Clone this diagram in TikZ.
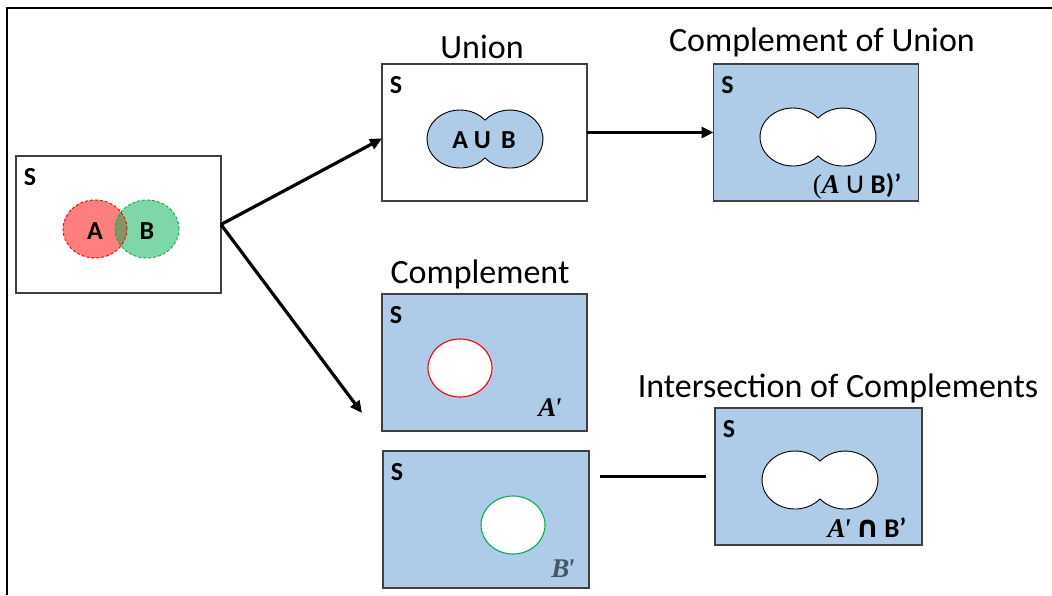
\documentclass[tikz,border=0pt]{standalone}
\usepackage{fontspec}
\setmainfont{Carlito}
\newfontfamily\symserif{Liberation Serif}
\newfontfamily\dvsans{DejaVu Sans}
\usetikzlibrary{arrows.meta,calc}

\definecolor{setblue}{RGB}{174,203,232}
\definecolor{boxline}{RGB}{64,64,64}
\definecolor{vennred}{RGB}{255,0,0}
\definecolor{venngreen}{RGB}{0,176,80}
\definecolor{slate}{RGB}{68,84,106}

% bold italic letter with a prime
\newcommand\primed[1]{{\symserif\bfseries\itshape #1\kern-0.08em'}}

\tikzset{
  setbox/.style={draw=boxline, line width=1.4pt, rectangle, inner sep=0pt, outer sep=0pt,
                 minimum width=205pt, minimum height=137pt},
  fullbox/.style={setbox, fill=setblue},
  title/.style={font=\fontsize{34}{40}\selectfont, anchor=base, inner sep=0pt},
  lbl/.style={font=\fontsize{26}{30}\selectfont\bfseries, inner sep=0pt},
  mlbl/.style={font=\fontsize{27}{32}\selectfont, anchor=base, inner sep=0pt},
  conn/.style={line width=3.2pt, -{Triangle[length=12pt,width=11pt]}},
  link/.style={line width=3.2pt},
  % two overlapping ellipses forming a single outline
  lobes/.pic={
    \path[pic actions] (0,-18.9)
      arc[start angle=40.7, end angle=319.3, x radius=33pt, y radius=29pt]
      arc[start angle=220.7, end angle=499.3, x radius=33pt, y radius=29pt] -- cycle;
  }
}

\begin{document}
\begin{tikzpicture}[x=1pt, y=-1pt]
\useasboundingbox (0,0) rectangle (1052,595);

% outer frame
\draw[line width=1.6pt] (7,595) -- (7,8) -- (1052,8);

% sample space with A and B
\node[setbox] (S0) at (118.5,224.5) {};
\node[lbl] (s0) at ($(S0.north west)+(14,21)$) {S};
\fill[vennred, fill opacity=0.5] (95,229) ellipse[x radius=32pt, y radius=29pt];
\fill[venngreen, fill opacity=0.5] (147,229) ellipse[x radius=32pt, y radius=29pt];
\draw[vennred, line width=0.9pt, dash pattern=on 3pt off 2pt] (95,229) ellipse[x radius=32pt, y radius=29pt];
\draw[venngreen, line width=0.9pt, dash pattern=on 3pt off 2pt] (147,229) ellipse[x radius=32pt, y radius=29pt];
\node[lbl] (la) at (95,231) {A};
\node[lbl] (lb) at (147,231) {B};

% union
\node[setbox] (U) at (484.5,132.5) {};
\node[lbl] (s1) at ($(U.north west)+(14,21)$) {S};
\node[title] (tU) at (482,58) {Union};
\pic[fill=setblue, draw=black, line width=0.9pt] at (485,139) {lobes};
\node[lbl] (lu) at (484,140) {A U\, B};

% complement of the union
\node[fullbox] (CU) at (816,132.5) {};
\node[lbl] (s2) at ($(CU.north west)+(14,21)$) {S};
\node[title] (tCU) at (822,51) {Complement of Union};
\pic[fill=white, draw=black, line width=0.9pt] at (818,137) {lobes};
\node[mlbl] (lcu) at (857,193) {{\symserif(}{\symserif\bfseries\itshape A}\,{\dvsans\fontsize{30}{32}\selectfont ∪}\,\textbf{B)’}};

% complements of A and B
\node[title] (tC) at (480,283) {Complement};
\node[fullbox] (CA) at (484.5,362.5) {};
\node[lbl] (s3) at ($(CA.north west)+(14,21)$) {S};
\draw[vennred, line width=1.1pt, fill=white] (460,368) ellipse[x radius=32pt, y radius=29pt];
\node[mlbl] (lca) at (550,416) {\primed{A}};

\node[fullbox, minimum width=206pt] (CB) at (486,519.5) {};
\node[lbl] (s4) at ($(CB.north west)+(14,21)$) {S};
\draw[venngreen, line width=1.1pt, fill=white] (513,525) ellipse[x radius=32pt, y radius=29pt];
\node[mlbl, text=slate] (lcb) at (563,577) {\primed{B}};

% intersection of the complements
\node[fullbox, minimum width=207pt] (I) at (818.5,476.5) {};
\node[lbl] (s5) at ($(I.north west)+(14,21)$) {S};
\node[title] (tI) at (838,397) {Intersection of Complements};
\pic[fill=white, draw=black, line width=0.9pt] at (820,480) {lobes};
\node[mlbl] (li) at (867,537) {\primed{A}\,{\dvsans\bfseries\fontsize{30}{32}\selectfont ∩}\,\textbf{B’}};

% connectors
\coordinate (e2) at (362,413);
\coordinate (l1) at (600,476.5);
\draw[conn] (S0.east) -- ($(U.west)+(0,6)$);
\draw[conn] (S0.east) -- (e2);
\draw[conn] (U.east) -- (CU.west);
\draw[link] (l1) -- ($(I.west)+(-9,0)$);
\end{tikzpicture}
\end{document}
